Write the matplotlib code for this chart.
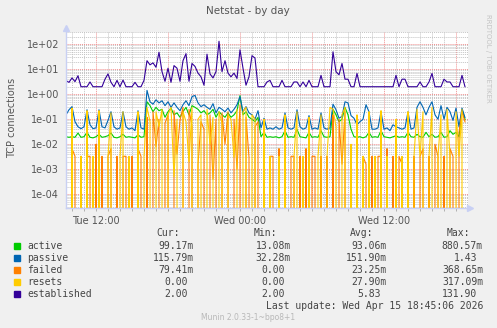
import numpy as np
import matplotlib
matplotlib.use('Agg')
import matplotlib.pyplot as plt
from matplotlib.ticker import FixedLocator, LogLocator, NullFormatter

# sample times: hours since Tue 00:00, one sample per 15 minutes
start_hour = 9.5
step_hour = 0.25

active = [0.02, 0.019, 0.02, 0.019, 0.028, 0.019, 0.02, 0.03, 0.019, 0.018,
          0.02, 0.025, 0.019, 0.02, 0.022, 0.028, 0.019, 0.018, 0.02, 0.025,
          0.019, 0.02, 0.019, 0.018, 0.024, 0.019, 0.02,
          0.5, 0.35, 0.2, 0.3, 0.22, 0.25, 0.12, 0.2, 0.28, 0.15,
          0.18, 0.12, 0.2, 0.3, 0.15, 0.35, 0.3, 0.25, 0.18, 0.22,
          0.15, 0.18, 0.25, 0.12, 0.2, 0.15, 0.12, 0.18, 0.12, 0.15,
          0.22, 0.88, 0.15, 0.2, 0.12, 0.1, 0.08, 0.12,
          0.02, 0.03, 0.019, 0.02, 0.019, 0.02, 0.018, 0.02, 0.035, 0.019,
          0.02, 0.019, 0.04, 0.02, 0.019, 0.018, 0.03, 0.019, 0.02, 0.019,
          0.035, 0.02, 0.019, 0.02,
          0.25, 0.15, 0.08, 0.1, 0.3, 0.15, 0.04,
          0.02, 0.019, 0.02, 0.018, 0.02, 0.03, 0.019, 0.02, 0.019, 0.035,
          0.02, 0.019, 0.018, 0.02, 0.022, 0.019, 0.02, 0.019, 0.03, 0.02,
          0.019,
          0.025, 0.02, 0.019, 0.03, 0.02, 0.025, 0.019, 0.02, 0.03, 0.019,
          0.02, 0.035, 0.025, 0.03, 0.02, 0.25, 0.099]

passive = [0.15, 0.24, 0.32, 0.08, 0.05, 0.042, 0.05, 0.24, 0.06, 0.042,
           0.045, 0.24, 0.05, 0.045, 0.09, 0.2, 0.05, 0.04, 0.045, 0.2,
           0.05, 0.04, 0.045, 0.035, 0.22, 0.045, 0.04,
           1.43, 0.5, 0.4, 0.6, 0.45, 0.55, 0.35, 0.5, 0.3, 0.45,
           0.3, 0.22, 0.38, 0.55, 0.35, 0.8, 0.9, 0.45, 0.32, 0.38,
           0.3, 0.25, 0.42, 0.18, 0.3, 0.25, 0.2, 0.28, 0.18, 0.25,
           0.38, 0.8, 0.2, 0.32, 0.18, 0.15, 0.1, 0.22,
           0.045, 0.11, 0.04, 0.045, 0.04, 0.05, 0.04, 0.045, 0.18, 0.045,
           0.04, 0.045, 0.24, 0.05, 0.04, 0.045, 0.14, 0.04, 0.045, 0.04,
           0.18, 0.045, 0.04, 0.045,
           0.4, 0.24, 0.11, 0.13, 0.5, 0.45, 0.14,
           0.11, 0.06, 0.08, 0.1, 0.38, 0.2, 0.04, 0.04, 0.045, 0.2,
           0.04, 0.045, 0.035, 0.06, 0.05, 0.045, 0.04, 0.045, 0.2, 0.04,
           0.045,
           0.3, 0.5, 0.3, 0.15, 0.3, 0.5, 0.15, 0.1, 0.35, 0.1,
           0.3, 0.2, 0.09, 0.28, 0.05, 0.28, 0.116]

failed = [0.0033, 0, 0.0067, 0.0033, 0, 0.0033, 0, 0.0033, 0.0033, 0,
          0.01, 0, 0.0033, 0, 0.0033, 0.0067, 0, 0.0033, 0, 0.0033,
          0.0033, 0, 0.0033, 0, 0.0067, 0.0033, 0,
          0.12, 0, 0.2, 0.008, 0.1, 0, 0.07, 0.15, 0, 0.22,
          0.004, 0.09, 0.3, 0, 0.25, 0.05, 0, 0.0015, 0.08, 0.04,
          0, 0.15, 0.0004, 0.1, 0, 0.18, 0.01, 0.2, 0, 0.1,
          0.001, 0.37, 0, 0.12, 0.003, 0, 0.05, 0.08,
          0, 0.0033, 0, 0.0033, 0.0033, 0, 0.0067, 0, 0.0033, 0,
          0.0033, 0.0033, 0, 0.0033, 0, 0.0067, 0, 0.0033, 0.0033, 0,
          0.0033, 0, 0.0033, 0,
          0.15, 0, 0.1, 0.0016, 0.2, 0, 0.0033,
          0, 0.0033, 0, 0.0033, 0.0016, 0, 0.0033, 0, 0.0033, 0.0033,
          0, 0.0067, 0, 0.0033, 0, 0.0033, 0.0016, 0, 0.0033, 0,
          0.0033,
          0, 0.0033, 0.0067, 0, 0.0033, 0, 0.01, 0.0033, 0, 0.0033,
          0, 0.0067, 0.0033, 0, 0.03, 0.2, 0.079]

resets = [0.0033, 0, 0.28, 0, 0, 0.0033, 0, 0.22, 0, 0.0033,
          0, 0.22, 0, 0, 0.0033, 0.18, 0, 0, 0.0033, 0.2,
          0, 0.0033, 0, 0, 0.2, 0, 0.0033,
          0.3, 0.08, 0, 0.2, 0.05, 0.25, 0, 0.15, 0.3, 0.0005,
          0.1, 0, 0.2, 0.08, 0.002, 0.3, 0, 0.1, 0.15, 0,
          0.25, 0.01, 0.12, 0, 0.2, 0.07, 0, 0.15, 0.1, 0.003,
          0.25, 0, 0.2, 0.3, 0, 0.15, 0.1, 0,
          0, 0.1, 0, 0.0033, 0, 0, 0.0033, 0, 0.15, 0,
          0, 0.0033, 0.2, 0, 0.0033, 0, 0.12, 0, 0, 0.0033,
          0.15, 0, 0.0033, 0.3,
          0.25, 0.05, 0, 0.15, 0.3, 0, 0.01,
          0, 0.15, 0, 0.0033, 0, 0.2, 0, 0.0033, 0, 0.22,
          0, 0.0033, 0, 0, 0.1, 0, 0.0033, 0, 0.2, 0,
          0.0033,
          0.25, 0.0033, 0.2, 0, 0.0033, 0.3, 0, 0.0033, 0.15, 0,
          0.25, 0.0033, 0, 0.2, 0.0033, 0.25, 0]

established = [3.5, 3.0, 4.5, 3.2, 5.5, 2, 2, 2, 3.1, 2,
               2, 2, 2, 4.0, 6.5, 3.0, 2, 3.6, 2, 3.7,
               2, 2, 2, 3.0, 2, 2, 3.6,
               22, 15, 18, 12, 48, 8, 3.3, 11, 3.0, 14,
               11, 3.3, 22, 42, 3.3, 17, 13, 7, 5, 2.3,
               40, 6.5, 4.5, 8, 131.9, 8, 22, 7, 5, 7,
               4.3, 60, 11, 2.3, 5, 35, 28, 2,
               2, 2, 3.1, 3.6, 2, 2, 2, 3.6, 2, 2,
               2, 3.1, 3.1, 2, 3.1, 2, 3.6, 2, 2, 2,
               5.7, 2, 2, 2,
               50, 8, 6, 17, 4, 4, 2,
               2, 6.8, 2, 2, 2, 2, 2, 2, 2, 2,
               2, 2, 2, 2, 5.7, 2, 4, 4, 2, 2,
               2,
               2, 3.1, 2, 2, 3.1, 6.8, 2, 2, 2, 4,
               3.1, 3.1, 2, 2, 2, 5.7, 2]

names = ['active', 'passive', 'failed', 'resets', 'established']
colors = ['#00CC00', '#0066B3', '#FF8000', '#FFCC00', '#330099']
cur = ['99.17m', '115.79m', '79.41m', '0.00', '2.00']
mins = ['13.08m', '32.28m', '0.00', '0.00', '2.00']
avgs = ['93.06m', '151.90m', '23.25m', '27.90m', '5.83']
maxs = ['880.57m', '1.43', '368.65m', '317.09m', '131.90']

xtick_pos = [12, 24, 36]
xtick_labels = ['Tue 12:00', 'Wed 00:00', 'Wed 12:00']
ytick_pos = [1e-4, 1e-3, 1e-2, 1e-1, 1e0, 1e1, 1e2]
ytick_labels = ['1e-04', '1e-03', '1e-02', '1e-01', '1e+00', '1e+01', '1e+02']

W, H = 497, 328
fig = plt.figure(figsize=(W / 100, H / 100), dpi=100, facecolor='#F0F0F0')
ax = fig.add_axes([66 / W, 1 - 208 / H, 402 / W, 176 / H])
ax.set_facecolor('white')

t = start_hour + step_hour * np.arange(len(active))
series = [active, passive, failed, resets, established]
for vals, c in zip(series, colors):
    ax.plot(t, vals, color=c, lw=0.8)

ax.set_yscale('log', nonpositive='clip')
ax.set_ylim(10 ** -4.55, 10 ** 2.49)
ax.set_xlim(9.5, 43.0)

ax.yaxis.set_major_locator(FixedLocator(ytick_pos))
ax.set_yticklabels(ytick_labels)
ax.yaxis.set_minor_locator(LogLocator(base=10, subs=np.arange(2, 10)))
ax.yaxis.set_minor_formatter(NullFormatter())
ax.xaxis.set_major_locator(FixedLocator(np.arange(12, 43, 6)))
ax.set_xticklabels([xtick_labels[xtick_pos.index(h)] if h in xtick_pos else ''
                    for h in np.arange(12, 43, 6)])
ax.xaxis.set_minor_locator(FixedLocator(np.arange(10, 43, 1)))

ax.set_axisbelow(True)
ax.grid(which='minor', color='#c4c4c4', lw=0.7, linestyle=(0, (1, 1)))
ax.grid(which='major', color='#f09090', lw=0.7, linestyle=(0, (1, 1)))
ax.tick_params(which='both', length=2, width=0.7, color='#b0b0b0',
               labelsize=7, labelcolor='#555555', pad=4)
ax.tick_params(axis='y', which='both', length=0, pad=5)

for s in ['top', 'right']:
    ax.spines[s].set_visible(False)
for s in ['left', 'bottom']:
    ax.spines[s].set_color('#c8d0f4')
    ax.spines[s].set_linewidth(1.0)
ax.plot([0], [1.02], marker='^', ms=4, color='#c8d0f4', transform=ax.transAxes, clip_on=False)
ax.plot([1.005], [0], marker='>', ms=4, color='#c8d0f4', transform=ax.transAxes, clip_on=False)

def px(x, y):
    return x / W, 1 - y / H

fig.text(*px(248, 11), 'Netstat - by day', ha='center', va='center', fontsize=7.5, color='#555555')
fig.text(*px(12, 118), 'TCP connections', ha='center', va='center', rotation=90, fontsize=7, color='#555555')
fig.text(*px(488, 58), 'RRDTOOL / TOBI OETIKER', ha='center', va='center', rotation=270, fontsize=5, color='#c4c4c4')

mono = dict(family='DejaVu Sans Mono', fontsize=7, color='#444444', va='center')
charw = 5.9
head_right = [180, 277, 373, 470]
col_right = [194, 291, 387, 483]
for hdr, xr in zip(['Cur:', 'Min:', 'Avg:', 'Max:'], head_right):
    fig.text(*px(xr, 233), hdr, ha='right', **mono)
for k, name in enumerate(names):
    y = 246 + 12 * k
    fig.patches.append(plt.Rectangle(px(14, y + 3), 6 / W, 6 / H, color=colors[k],
                                     transform=fig.transFigure, figure=fig))
    fig.text(*px(27, y), name, ha='left', **mono)
    for vals, xr in zip([cur, mins, avgs, maxs], col_right):
        v = vals[k]
        off = 0 if v[-1].isalpha() else charw
        fig.text(*px(xr - off, y), v, ha='right', **mono)
fig.text(*px(483, 306), 'Last update: Wed Apr 15 18:45:06 2026', ha='right', **mono)
fig.text(*px(248, 317), 'Munin 2.0.33-1~bpo8+1', ha='center', va='center', fontsize=5.5, color='#b8b8b8')

fig.savefig('out.png', dpi=100, facecolor=fig.get_facecolor())
